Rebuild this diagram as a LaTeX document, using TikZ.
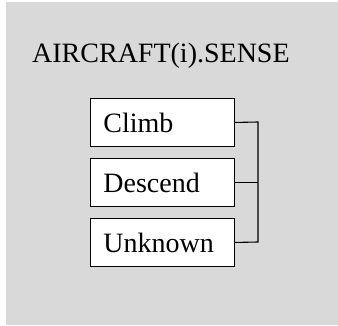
\documentclass[tikz,border=0pt]{standalone}
\usepackage{fontspec}
\setmainfont{Liberation Serif}
\definecolor{bggray}{HTML}{D9D9D9}
\begin{document}
\begin{tikzpicture}[x=1pt,y=-1pt,
  choice/.style={draw=black, line width=0.9pt, fill=white, anchor=north west,
    text width=118pt, inner xsep=13pt, inner ysep=0pt, minimum height=48pt,
    align=left, font=\fontsize{28}{30}\selectfont},
  wire/.style={draw=black, line width=1.1pt}]
\useasboundingbox (0,0) rectangle (338,325);
\fill[bggray] (6,2) rectangle (338,325);
\node[anchor=base west, inner sep=0pt, font=\fontsize{28}{30}\selectfont] (title) at (32,62) {AIRCRAFT(i).SENSE};
\node[choice] (climb) at (90,98) {Climb};
\node[choice] (descend) at (90,158) {Descend};
\node[choice] (unknown) at (90,218) {Unknown};
\coordinate (bt) at (258,122);
\coordinate (bb) at (258,242);
\draw[wire] (climb.east) -- (bt) -- (bb) -- (unknown.east);
\draw[wire] (descend.east) -- (descend.east -| bt);
\end{tikzpicture}
\end{document}
